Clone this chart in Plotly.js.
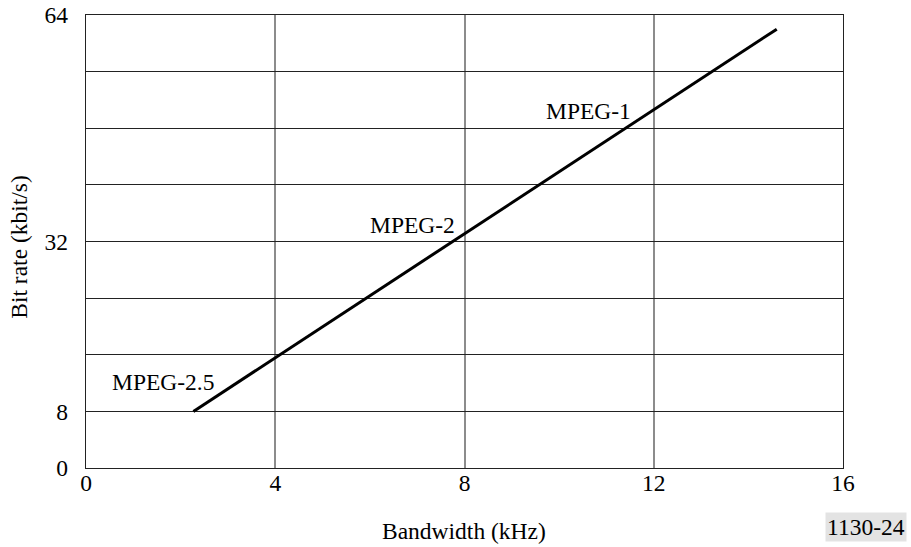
<!DOCTYPE html>
<html>
<head>
<meta charset="utf-8">
<script src="https://cdn.plot.ly/plotly-3.0.1.min.js"></script>
<style>
  html, body { margin: 0; padding: 0; background: #fff; }
  #chart { width: 911px; height: 547px; }
</style>
</head>
<body>
<div id="chart"></div>
<script>
// Bit rate versus audio bandwidth for the MPEG audio layers
const bandwidthKHz = [2.27, 14.6];
const bitRateKbps = [8, 62];

const xTickVals = [0, 4, 8, 12, 16];
const xTickText = ['0', '4', '8', '12', '16'];
const yTickVals = [0, 8, 16, 24, 32, 40, 48, 56, 64];
const yTickText = ['0', '8', '', '', '32', '', '', '', '64'];

const xTitle = 'Bandwidth (kHz)';
const yTitle = 'Bit rate (kbit/s)';

const labelNames = ['MPEG-1', 'MPEG-2', 'MPEG-2.5'];
const labelX = [10.63, 6.9, 1.63];
const labelY = [50.4, 34.4, 12.1];

const serif = 'Liberation Serif';
const fs = 23.5;

const W = 911, H = 547;
const m = { l: 86, r: 68, t: 14.5, b: 79 };
const plotW = W - m.l - m.r, plotH = H - m.t - m.b;
// convert a page position into paper fractions of the plot area
const px = v => (v - m.l) / plotW;
const py = v => (H - m.b - v) / plotH;

const trace = {
  x: bandwidthKHz,
  y: bitRateKbps,
  type: 'scatter',
  mode: 'lines',
  line: { color: '#000', width: 3 },
  hoverinfo: 'skip',
  showlegend: false
};

const textFont = { family: serif, size: fs, color: '#000' };

const annotations = labelNames.map((t, i) => ({
  x: labelX[i], y: labelY[i], xref: 'x', yref: 'y',
  text: t, showarrow: false,
  xanchor: 'center', yanchor: 'middle',
  font: textFont
}));

// axis titles
annotations.push({
  x: px(463.5), y: py(531), xref: 'paper', yref: 'paper',
  text: xTitle, showarrow: false,
  xanchor: 'center', yanchor: 'middle', font: textFont
});
annotations.push({
  x: px(19), y: py(246.5), xref: 'paper', yref: 'paper',
  text: yTitle, showarrow: false, textangle: -90,
  xanchor: 'center', yanchor: 'middle', font: textFont
});

// the code number sits in the lower right corner, outside the plot area
annotations.push({
  x: px(865.5), y: py(527), xref: 'paper', yref: 'paper',
  text: '1130-24', showarrow: false,
  xanchor: 'center', yanchor: 'middle',
  bgcolor: '#e3e3e3', borderpad: 1,
  font: textFont
});

const layout = {
  width: W, height: H,
  margin: m,
  paper_bgcolor: '#fff',
  plot_bgcolor: '#fff',
  font: textFont,
  xaxis: {
    range: [0, 16],
    tickmode: 'array', tickvals: xTickVals, ticktext: xTickText,
    ticks: '', ticklabelstandoff: -6,
    showgrid: true, gridcolor: '#8c8c8c', gridwidth: 2,
    zeroline: false,
    showline: true, linecolor: '#222', linewidth: 1.2, mirror: true,
    tickfont: textFont,
    automargin: false,
    fixedrange: true
  },
  yaxis: {
    range: [0, 64],
    tickmode: 'array', tickvals: yTickVals, ticktext: yTickText,
    ticks: 'outside', ticklen: 12, tickcolor: 'rgba(0,0,0,0)',
    showgrid: true, gridcolor: '#222', gridwidth: 1,
    zeroline: false,
    showline: true, linecolor: '#222', linewidth: 1.2, mirror: true,
    tickfont: textFont,
    automargin: false,
    fixedrange: true
  },
  annotations: annotations
};

Plotly.newPlot('chart', [trace], layout, { displayModeBar: false, staticPlot: true });
</script>
</body>
</html>
